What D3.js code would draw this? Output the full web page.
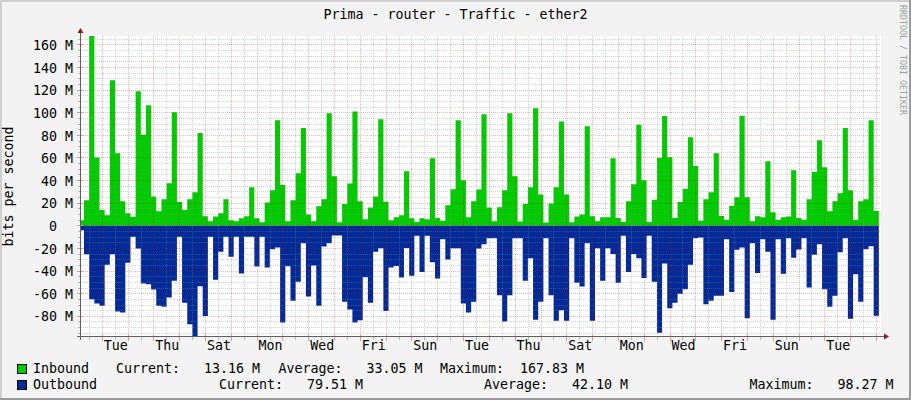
<!DOCTYPE html>
<html>
<head>
<meta charset="utf-8">
<script src="https://cdn.jsdelivr.net/npm/d3@7"></script>
<style>
    body { margin: 0; background: #f3f3f3; }
    svg { display: block; font-family: "DejaVu Sans Mono", monospace; }
    text { white-space: pre; }
</style>
</head>
<body>
<div id="chart"></div>
<script>
// series: one value every 4.8h, in M bit/s
const inbound = [
    5, 22.7, 167.83, 60.4, 13.9, 9.4, 128.8, 64.2, 21.8, 11.2,
    8.0, 119, 80.5, 106.7, 26, 13, 23.6, 37.7, 100.5, 21,
    14.1, 23.6, 29.8, 82, 8.5, 4.1, 8.3, 11.2, 23.6, 5,
    4.1, 6.8, 8.5, 34.2, 6.8, 3.2, 20.6, 31.5, 93.4, 36,
    4.1, 22.7, 46.6, 86.4, 10, 4.1, 17.4, 23.6, 99.6, 43.9,
    3.2, 19.2, 37.4, 101, 21.8, 5.9, 16.2, 26, 94.3, 21.2,
    5, 7.7, 9.4, 48.3, 6.8, 3.5, 6.8, 5.9, 59.8, 7,
    4.4, 18.3, 32.4, 93.4, 40.4, 7.7, 21.8, 32.1, 98.7, 16.2,
    4.1, 16.5, 31.5, 99.6, 43.9, 3.8, 19.2, 34.2, 104, 27.7,
    2.9, 19.7, 34.2, 92.2, 27.7, 3.2, 8.3, 10, 88.1, 8.5,
    4.1, 7.7, 7.7, 59.8, 7, 3.5, 21.8, 36.8, 89.3, 40.4,
    3.5, 23, 60.1, 97, 60.7, 7, 21, 32.7, 78.4, 52.8,
    4.4, 23.6, 29.8, 64.2, 8.8, 5.3, 17.7, 25.3, 97, 25.3,
    4.1, 8.5, 7.7, 57.2, 12, 5.3, 7.7, 8.3, 49.2, 7,
    5.3, 23.6, 47.7, 75.7, 51.9, 13, 21.8, 28.9, 86.4, 31.5,
    5.3, 21.8, 23.6, 93.4, 13.16
];
const outbound = [
    4, 25.1, 64.8, 68.7, 70.7, 34.5, 25.1, 75.7, 76.6, 32.7,
    9.7, 20, 51, 51.6, 56.3, 70.7, 71.6, 63.4, 48.6, 9.7,
    68, 87, 98.27, 53.3, 79.6, 9.7, 47.7, 23, 9.7, 27.4,
    9.7, 42.1, 9.7, 9.7, 36, 9.7, 36.8, 20.6, 19.2, 85.5,
    35.7, 66.3, 49.5, 15.3, 62.5, 35, 70.7, 18.3, 15.3, 8.5,
    8.5, 67.2, 74, 85.5, 83.4, 45.4, 68, 23, 19.7, 75.2,
    36.8, 35.4, 45.7, 19.5, 44.2, 8.8, 40.7, 8.8, 32.1, 46.6,
    11.8, 29.8, 19.7, 19.7, 68.7, 76.6, 67.2, 20, 16.2, 10.9,
    10.9, 61.3, 84.6, 61.3, 10.9, 10.9, 48.6, 28.6, 83.1, 67.2,
    10.9, 61.3, 84, 74.6, 84, 10.9, 50.4, 53.6, 15.3, 84,
    19.7, 48.6, 19.7, 25, 50.4, 8.8, 40.7, 25, 28.6, 46,
    8.8, 49.5, 94.6, 33.3, 72.8, 68, 60.1, 56, 34.5, 10.9,
    10.3, 69.3, 66.3, 61.9, 61.9, 11.8, 58.4, 21.2, 19.2, 81.6,
    15.3, 41.6, 11.8, 23, 83.1, 11.8, 42.4, 10.9, 28.3, 20.9,
    10.9, 54.5, 25.6, 16.2, 56, 71.6, 61.9, 23.3, 10.9, 82.2,
    42.7, 67.2, 20.6, 18, 79.51
];

const dayLabels = ["Tue","Thu","Sat","Mon","Wed","Fri","Sun","Tue","Thu","Sat","Mon","Wed","Fri","Sun","Tue"];
const yMajor = [-80, -60, -40, -20, 0, 20, 40, 60, 80, 100, 120, 140, 160];
const inStats = ["13.16", "33.05", "167.83"];
const outStats = ["79.51", "42.10", "98.27"];

const seriesStart = Date.UTC(2023, 0, 2, 2, 12);
const stepMs = 4.8 * 3600 * 1000;
const viewStart = new Date(Date.UTC(2023, 0, 2, 4, 12));
const viewEnd = new Date(Date.UTC(2023, 1, 2, 4, 12));

const W = 911, H = 400;
const plot = {left: 81, top: 36, width: 800, height: 301};
const fontSize = "13.3px";

const svg = d3.select("#chart").append("svg")
    .attr("width", W)
    .attr("height", H);

// canvas + 3d border
svg.append("rect").attr("width", W).attr("height", H).attr("fill", "#f3f3f3");
svg.append("path").attr("d", `M0,1 H${W} M1,0 V${H}`).attr("stroke", "#cfcfcf").attr("stroke-width", 2);
svg.append("path").attr("d", `M0,${H-1} H${W} M${W-1},0 V${H}`).attr("stroke", "#9a9a9a").attr("stroke-width", 2);

const x = d3.scaleUtc().domain([viewStart, viewEnd]).range([plot.left, plot.left + plot.width]);
const y = d3.scaleLinear().domain([-98.27, 167.83]).range([plot.top + plot.height, plot.top]);

svg.append("rect")
    .attr("x", plot.left).attr("y", plot.top)
    .attr("width", plot.width).attr("height", plot.height)
    .attr("fill", "#ffffff");

svg.append("clipPath").attr("id", "clip")
    .append("rect")
    .attr("x", plot.left).attr("y", plot.top)
    .attr("width", plot.width).attr("height", plot.height);

const toPoints = (vals, sign) => {
    const pts = vals.map((v, i) => ({t: new Date(seriesStart + i * stepMs), v: sign * v}));
    pts.push({t: new Date(seriesStart + vals.length * stepMs), v: sign * vals[vals.length - 1]});
    return pts;
};

const area = d3.area()
    .curve(d3.curveStepAfter)
    .x(d => x(d.t))
    .y0(y(0))
    .y1(d => y(d.v));

const dataG = svg.append("g").attr("clip-path", "url(#clip)");
dataG.append("path").datum(toPoints(inbound, 1)).attr("d", area).attr("fill", "#00cc00");
dataG.append("path").datum(toPoints(outbound, -1)).attr("d", area).attr("fill", "#002a97");

// grid (drawn over the data, like rrdtool)
const snap = v => Math.floor(v) + 0.5;
const minorCol = "rgba(140,140,140,0.38)";
const majorCol = "rgba(255,0,0,0.3)";
const gridG = svg.append("g").attr("stroke-dasharray", "1,1").attr("stroke-width", 1);

const yMinor = d3.range(-95, 168, 5).filter(v => v % 20 !== 0);
const xMinor = d3.utcHour.every(12).range(viewStart, viewEnd).filter(d => d.getUTCHours() !== 0);
const xMajor = d3.utcDay.range(viewStart, viewEnd);

gridG.selectAll(".hmin").data(yMinor).join("line")
    .attr("x1", plot.left).attr("x2", plot.left + plot.width)
    .attr("y1", d => snap(y(d))).attr("y2", d => snap(y(d)))
    .attr("stroke", minorCol);
gridG.selectAll(".vmin").data(xMinor).join("line")
    .attr("x1", d => snap(x(d))).attr("x2", d => snap(x(d)))
    .attr("y1", plot.top).attr("y2", plot.top + plot.height)
    .attr("stroke", minorCol);
gridG.selectAll(".hmaj").data(yMajor).join("line")
    .attr("x1", plot.left).attr("x2", plot.left + plot.width)
    .attr("y1", d => snap(y(d))).attr("y2", d => snap(y(d)))
    .attr("stroke", majorCol);
gridG.selectAll(".vmaj").data(xMajor).join("line")
    .attr("x1", d => snap(x(d))).attr("x2", d => snap(x(d)))
    .attr("y1", plot.top).attr("y2", plot.top + plot.height)
    .attr("stroke", majorCol);

// axis ticks
const bottom = plot.top + plot.height;
const tickG = svg.append("g").attr("stroke-width", 1);
tickG.selectAll(".ty1").data(yMinor).join("line")
    .attr("x1", plot.left - 3).attr("x2", plot.left)
    .attr("y1", d => snap(y(d))).attr("y2", d => snap(y(d)))
    .attr("stroke", "#b8b8b8");
tickG.selectAll(".ty2").data(yMajor).join("line")
    .attr("x1", plot.left - 4).attr("x2", plot.left + 2)
    .attr("y1", d => snap(y(d))).attr("y2", d => snap(y(d)))
    .attr("stroke", "#e89a9a");
tickG.selectAll(".tx1").data(xMinor).join("line")
    .attr("x1", d => snap(x(d))).attr("x2", d => snap(x(d)))
    .attr("y1", bottom).attr("y2", bottom + 3)
    .attr("stroke", "#b8b8b8");
tickG.selectAll(".tx2").data(xMajor).join("line")
    .attr("x1", d => snap(x(d))).attr("x2", d => snap(x(d)))
    .attr("y1", bottom - 2).attr("y2", bottom + 4)
    .attr("stroke", "#e89a9a");

// axis lines and arrows
svg.append("line")
    .attr("x1", plot.left - 0.5).attr("x2", plot.left - 0.5)
    .attr("y1", bottom + 3).attr("y2", plot.top - 4)
    .attr("stroke", "#606060");
svg.append("line")
    .attr("x1", plot.left - 4).attr("x2", plot.left + plot.width + 5)
    .attr("y1", bottom - 0.5).attr("y2", bottom - 0.5)
    .attr("stroke", "#606060");
svg.append("path")
    .attr("d", `M${plot.left - 3.5},${plot.top - 3} L${plot.left + 2.5},${plot.top - 3} L${plot.left - 0.5},${plot.top - 8} Z`)
    .attr("fill", "#8b1a1a");
svg.append("path")
    .attr("d", `M${plot.left + plot.width + 3},${bottom - 3.5} L${plot.left + plot.width + 3},${bottom + 2.5} L${plot.left + plot.width + 8},${bottom - 0.5} Z`)
    .attr("fill", "#8b1a1a");

// axis labels through d3 axes
const yAxis = d3.axisLeft(y)
    .tickValues(yMajor)
    .tickSize(0)
    .tickPadding(8)
    .tickFormat(d => d === 0 ? "0  " : `${d} M`);
const yAxisG = svg.append("g")
    .attr("transform", `translate(${plot.left},0)`)
    .call(yAxis);
yAxisG.select(".domain").remove();
yAxisG.selectAll("text")
    .attr("dy", "0.35em")
    .style("font-family", "DejaVu Sans Mono")
    .style("font-size", fontSize)
    .attr("fill", "#000");

const noonTicks = d3.utcDay.range(new Date(Date.UTC(2023, 0, 3)), viewEnd, 2)
    .map(d => d3.utcHour.offset(d, 12));
const xAxis = d3.axisBottom(x)
    .tickValues(noonTicks)
    .tickSize(0)
    .tickPadding(4)
    .tickFormat((d, i) => dayLabels[i]);
const xAxisG = svg.append("g")
    .attr("transform", `translate(0,${bottom})`)
    .call(xAxis);
xAxisG.select(".domain").remove();
xAxisG.selectAll("text")
    .style("font-family", "DejaVu Sans Mono")
    .style("font-size", fontSize)
    .attr("fill", "#000");

// title, vertical label, watermark
svg.append("text")
    .attr("x", W / 2).attr("y", 19)
    .attr("text-anchor", "middle")
    .style("font-size", fontSize)
    .text("Prima - router - Traffic - ether2");

svg.append("text")
    .attr("transform", `translate(13,${plot.top + plot.height / 2}) rotate(-90)`)
    .attr("text-anchor", "middle")
    .style("font-size", fontSize)
    .text("bits per second");

svg.append("text")
    .attr("transform", "translate(900,5) rotate(90)")
    .attr("textLength", 110)
    .attr("lengthAdjust", "spacingAndGlyphs")
    .style("font-size", "8.5px")
    .attr("fill", "#a0a0a0")
    .text("RRDTOOL / TOBI OETIKER");

// legend
const legendRows = [
    {name: "Inbound", color: "#00cc00", stats: inStats, y: 373,
        xs: [116, 278.5, 440]},
    {name: "Outbound", color: "#002a97", stats: outStats, y: 389,
        xs: [219, 484, 749.5]}
];
const statNames = ["Current:", "Average:", "Maximum:"];
legendRows.forEach(row => {
    svg.append("rect")
        .attr("x", 17.5).attr("y", row.y - 8.5)
        .attr("width", 9).attr("height", 9)
        .attr("fill", row.color)
        .attr("stroke", "#000");
    svg.append("text")
        .attr("x", 33).attr("y", row.y)
        .style("font-size", fontSize)
        .text(row.name);
    row.stats.forEach((s, i) => {
        svg.append("text")
            .attr("x", row.xs[i]).attr("y", row.y)
            .style("font-size", fontSize)
            .text(statNames[i] + s.padStart(8, " ") + " M");
    });
});
</script>
</body>
</html>
